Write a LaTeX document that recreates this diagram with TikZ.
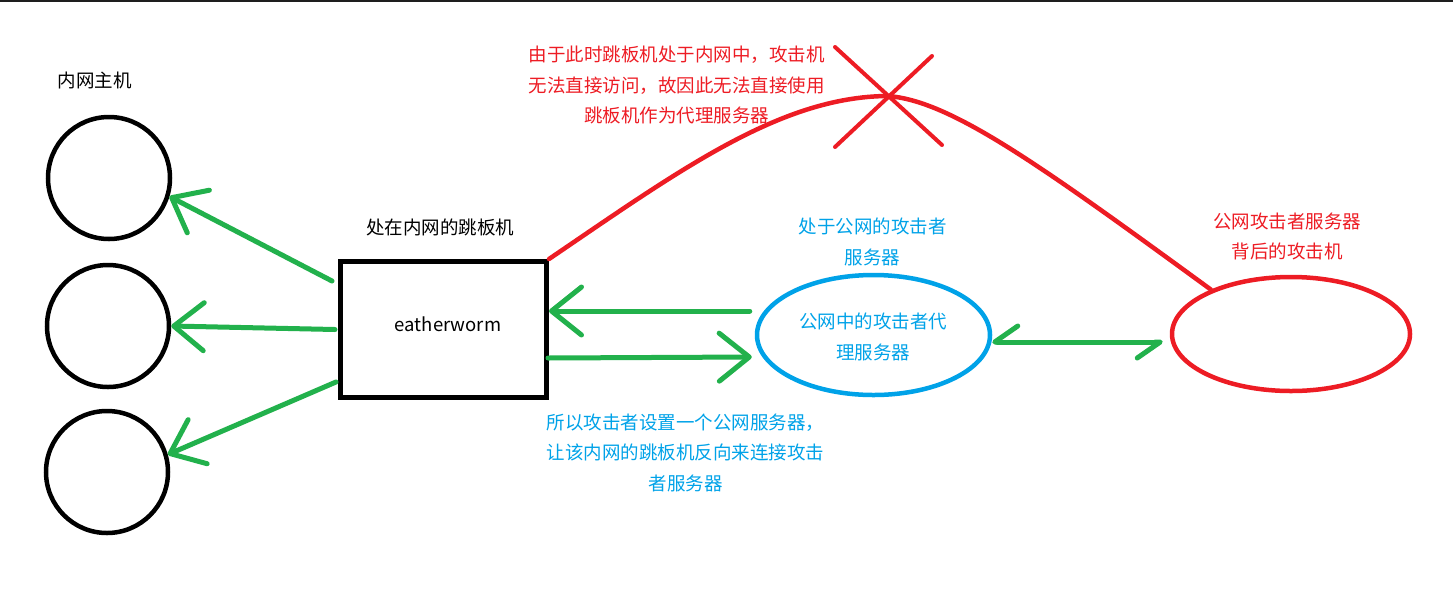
\documentclass[tikz,border=0pt]{standalone}
\usepackage{fontspec}
\setmainfont{Noto Sans CJK SC}
\usetikzlibrary{arrows.meta,shapes.geometric,calc}
\definecolor{pgreen}{RGB}{34,177,76}
\definecolor{pred}{RGB}{237,28,36}
\definecolor{pblue}{RGB}{0,162,232}
\definecolor{topbar}{RGB}{30,30,30}
\tikzset{
  gtip/.tip={Straight Barb[length=30pt,width=48pt,round]},
  htip/.tip={Straight Barb[length=23pt,width=32pt,round,harpoon,swap]}
}
\begin{document}
\begin{tikzpicture}[x=1pt,y=-1pt,
  txt/.style={font=\fontsize{18.5}{30.5}\selectfont, align=center, inner sep=0pt},
  host/.style={circle, draw=black, line width=4.5pt, minimum size=122pt, inner sep=0pt},
  jump/.style={rectangle, draw=black, line width=5pt, minimum width=206pt, minimum height=136pt, inner sep=0pt},
  gflow/.style={draw=pgreen, line width=5pt, line cap=round},
  redline/.style={draw=pred, line width=4.5pt, line cap=round},
  ell/.style={ellipse, line width=4.5pt, inner sep=0pt}
]
\useasboundingbox (0,0) rectangle (1453,595);
\fill[topbar] (0,0) rectangle (1453,2);

% hosts
\node[host] (h1) at (109,178) {};
\node[host] (h2) at (108,326) {};
\node[host] (h3) at (107,472) {};
\node[txt] (hl) at (94.5,80) {内网主机};

% jump box
\node[jump] (box) at (443.5,329.5) {};
\node[txt] (boxtext) at (448,324) {eatherworm};
\node[txt] (boxlabel) at (440,227) {处在内网的跳板机};

% ellipses
\node[ell, draw=pblue, minimum width=233pt, minimum height=120pt] (bl) at (873.5,335) {};
\node[txt, text=pblue] (bltext) at (873.3,337) {公网中的攻击者代\\理服务器};
\node[txt, text=pblue] (bllabel) at (872.5,242) {处于公网的攻击者\\服务器};
\node[ell, draw=pred, minimum width=238pt, minimum height=114pt] (rd) at (1291,334) {};
\node[txt, text=pred] (rdlabel) at (1287,236.5) {公网攻击者服务器\\背后的攻击机};

% texts
\node[txt, text=pred] (note) at (676.5,85) {由于此时跳板机处于内网中，攻击机\\无法直接访问，故因此无法直接使用\\跳板机作为代理服务器};
\node[txt, text=pblue] (note2) at (685.5,452.5) {所以攻击者设置一个公网服务器，\\让该内网的跳板机反向来连接攻击\\者服务器};

% green arrows to hosts
\draw[gflow, -gtip] ($(box.west)+(-6,-48.5)$) -- (h1.-17);
\draw[gflow, -gtip] ($(box.west)+(-3,0)$) -- (h2.east);
\draw[gflow, -gtip] ($(box.west)+(-2,52.5)$) -- (h3.16);

% between box and blue server
\draw[gflow, -gtip] ($(bl.west)+(-5,-24)$) -- ($(box.east)+(0,-18.5)$);
\draw[gflow, -gtip] ($(box.east)+(-1,28.5)$) -- ($(bl.west)+(-3,22)$);

% between blue and red
\draw[gflow, htip-htip] ($(bl.east)+(0,7)$) -- ($(rd.west)+(-7,8)$);

% failed direct link
\draw[redline] (box.north east) .. controls (680,170) and (780,97) .. (887,96)
  .. controls (950,100) and (1040,165) .. (rd.151);
\draw[redline, line width=4pt] (835,47) -- (942,145);
\draw[redline, line width=4pt] (932,56) -- (835,147);
\end{tikzpicture}
\end{document}
